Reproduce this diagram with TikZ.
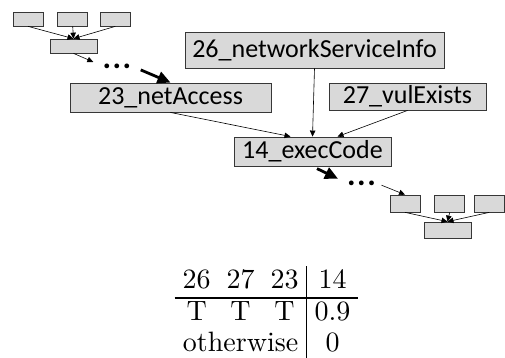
\documentclass[tikz,border=0pt]{standalone}
\usepackage{fontspec}
\newfontfamily\boxfont{Carlito}
\newfontfamily\tabfont{lmroman10-regular}[Extension=.otf]
\usetikzlibrary{arrows.meta,positioning}
\definecolor{boxfill}{RGB}{217,217,217}
\definecolor{boxline}{RGB}{55,55,55}

\begin{document}
\begin{tikzpicture}[
    x=1pt, y=-1pt,
    fact/.style={rectangle, draw=boxline, fill=boxfill, line width=0.9pt, inner sep=0pt, font=\boxfont\fontsize{26}{29}\selectfont},
    leaf/.style={rectangle, draw=boxline, fill=boxfill, line width=0.7pt, minimum width=30pt, minimum height=14pt, inner sep=0pt},
    more/.style={inner sep=0pt, font=\boxfont\bfseries\fontsize{32}{34}\selectfont},
    link/.style={-{Triangle[length=6pt,width=5.5pt]}, line width=0.6pt},
    jump/.style={-{Triangle[length=13pt,width=12pt]}, line width=2.8pt}
]
\useasboundingbox (0,0) rectangle (505,358);

% Upstream tree
\node[leaf] (tl1) at (28,19) {};
\node[leaf, right=14pt of tl1] (tl2) {};
\node[leaf, right=12pt of tl2] (tl3) {};
\node[leaf, minimum width=47pt] (tlbot) at (73.5,46) {};
\node[more] (dotsA) at (117,66) {.\hspace{1.5pt}.\hspace{1.5pt}.};

% Facts
\node[fact, minimum width=259pt, minimum height=36pt] (info) at (314.5,50) {26\_networkServiceInfo};
\node[fact, minimum width=201pt, minimum height=29pt] (net) at (170.5,97.5) {23\_netAccess};
\node[fact, minimum width=157pt, minimum height=27pt] (vul) at (407.5,96.5) {27\_vulExists};
\node[fact, minimum width=157pt, minimum height=29pt] (exec) at (312.5,151.5) {14\_execCode};

% Downstream tree
\node[more] (dotsB) at (361.5,183) {.\hspace{1.5pt}.\hspace{1.5pt}.};
\node[leaf, minimum height=17pt] (br1) at (405,203.5) {};
\node[leaf, minimum height=17pt, right=14pt of br1] (br2) {};
\node[leaf, minimum height=17pt, right=9pt of br2] (br3) {};
\node[leaf, minimum width=47pt, minimum height=16pt] (brbot) at (447.5,230) {};

% Table
\node[inner sep=0pt, font=\tabfont\fontsize{28}{31}\selectfont] (cpt) at (266.5,313.5) {%
  \setlength{\tabcolsep}{8pt}\setlength{\arrayrulewidth}{1.2pt}%
  \begin{tabular}{ccc|c}
    26 & 27 & 23 & 14 \\ \hline
    T & T & T & 0.9 \\
    \multicolumn{3}{c|}{otherwise} & 0
  \end{tabular}};

% Arrows
\draw[link] (tl1.south) -- (tlbot.north);
\draw[link] (tl2.south) -- (tlbot.north);
\draw[link] (tl3.south) -- (tlbot.north);
\draw[link, shorten >=10pt] (tlbot.south) -- (dotsA.west);
\draw[jump, shorten <=10pt] (dotsA.east) -- (net.north);

\draw[link] (net.south) -- ([xshift=-22pt]exec.north);
\draw[link] (info.south) -- (exec.north);
\draw[link] (vul.south) -- ([xshift=25pt]exec.north);

\draw[jump, shorten <=5pt, shorten >=10pt] (exec.south) -- (dotsB.west);
\draw[link, shorten <=6pt] (dotsB.east) -- (br1.north);
\draw[link] (br1.south) -- (brbot.north);
\draw[link] (br2.south) -- (brbot.north);
\draw[link] (br3.south) -- (brbot.north);

\end{tikzpicture}
\end{document}
